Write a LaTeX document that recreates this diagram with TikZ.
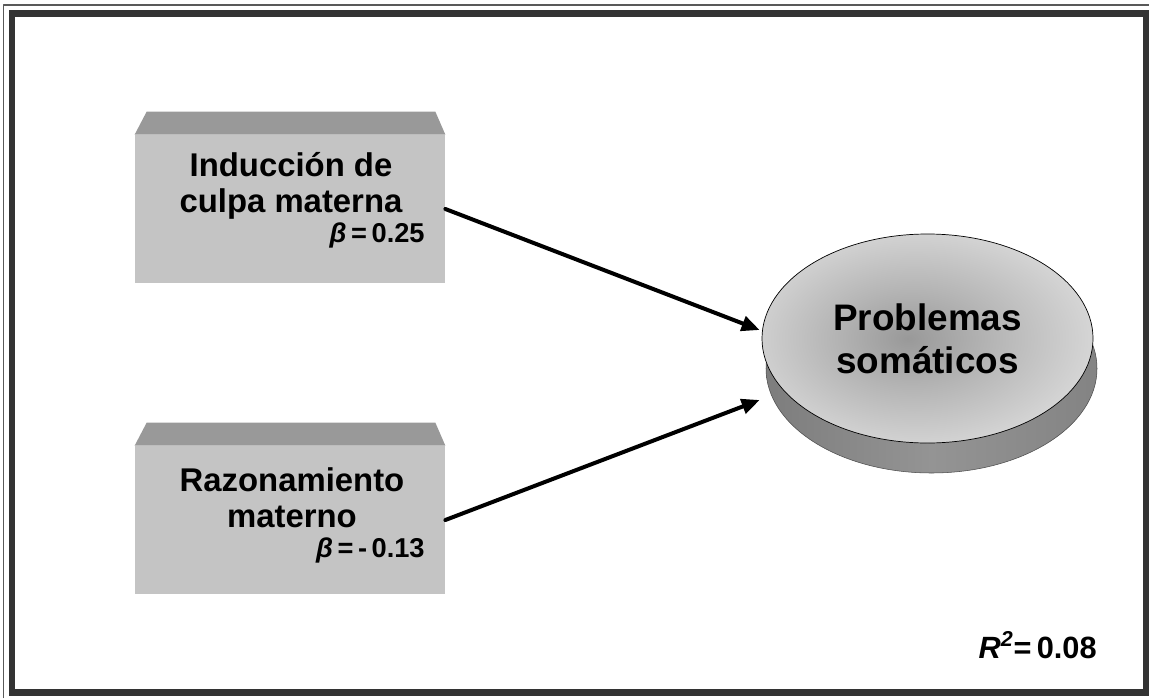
\documentclass[tikz,border=0pt]{standalone}
\usepackage{fontspec}
\setmainfont{Liberation Sans}
\usetikzlibrary{arrows.meta,shapes.geometric}
\pgfdeclareradialshading{somaface}{\pgfpoint{-3bp}{0bp}}{color(0bp)=(black!40); color(12bp)=(black!29); color(28bp)=(black!15); color(50bp)=(black!11)}
\pgfdeclarehorizontalshading{somaside}{100bp}{color(0bp)=(black!60); color(50bp)=(black!42); color(100bp)=(black!55)}
\begin{document}
\begin{tikzpicture}[x=0.2mm, y=-0.2mm, line join=round, line cap=round, font=\bfseries,
    face/.style={rectangle, fill=black!23, minimum width=62mm, minimum height=29.6mm, inner sep=0pt},
    bevel/.style={fill=black!40},
    lbl/.style={align=center, anchor=base, inner sep=0pt, font=\fontsize{18.7}{20}\selectfont\bfseries},
    coef/.style={anchor=base east, inner sep=0pt, font=\fontsize{15.5}{17}\selectfont\bfseries},
    link/.style={line width=0.8mm, -{Triangle[length=3.6mm, width=3mm]}}]
    \def\rx{165.5} \def\ry{104.5} % elipse
    \useasboundingbox (0,0) rectangle (1149,698);
    
    \draw[black!65, line width=0.3mm, line cap=butt] (3.3,698) -- (3.3,5) -- (1149,5);
    \draw[black!80, line width=1.3mm, line cap=butt, line join=miter] (12,13.5) rectangle (1146,692.5);
    
    \node[face] (b1) at (290,209) {};
    \node[face] (b2) at (290,520) {};
    \foreach \b in {b1,b2}
      \fill[bevel] (\b.north west) -- ++(12,-23) -- ([shift={(-10,-23)}]\b.north east) -- (\b.north east) -- cycle;
    \node[lbl] (t1) at (291,212) {Inducción de\\culpa materna};
    \node[lbl] (t2) at (292,527) {Razonamiento\\materno};
    \node[coef] (c1) at (425,242) {\textit{β}\,=\,0.25};
    \node[coef] (c2) at (425,557) {\textit{β}\,=\,-\,0.13};
    
    \path[draw=black!70, line width=0.3pt, shading=somaside] (931.5,368.5) ellipse [x radius=\rx, y radius=\ry];
    \node[ellipse, draw, line width=0.4pt, shading=somaface, minimum width=66.2mm, minimum height=41.8mm, inner sep=0pt, align=center, font=\fontsize{21}{24.5}\selectfont\bfseries] (ps) at (927.5,338.5) {Problemas\\somáticos};
    
    \draw[link] (b1.east) -- ([shift={(-2,-8.5)}]ps.west);
    \draw[link] (b2.east) -- ([shift={(-2,61.5)}]ps.west);
    
    \node[anchor=base east, inner sep=0pt, font=\fontsize{17.5}{20}\selectfont\bfseries] (r2) at (1097,658) {\textit{R}\textsuperscript{\textit{2}}=\,0.08};
\end{tikzpicture}
\end{document}
